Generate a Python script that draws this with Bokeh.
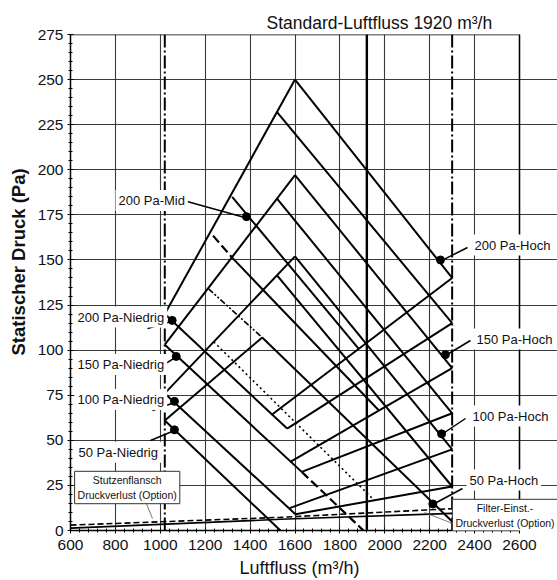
from bokeh.plotting import figure
from bokeh.models import Label, Span, FixedTicker, Range1d, Title
from bokeh.embed import file_html
from bokeh.resources import INLINE

FONT = "Liberation Sans"

x_ticks = [600, 800, 1000, 1200, 1400, 1600, 1800, 2000, 2200, 2400, 2600]
y_ticks = [0, 25, 50, 75, 100, 125, 150, 175, 200, 225, 250, 275]
standard_flow = 1920
min_flow = 1020
max_flow = 2300

# ---- 200 Pa family (x: m3/h, y: Pa)
up_200_x = [1020, 1600]; up_200_y = [120, 250]
hoch_200_x = [1600, 2300]; hoch_200_y = [250, 140]
br_200_x = [1520, 2300]; br_200_y = [232, 115]
mid_200_x = [1320, 1882]; mid_200_y = [185, 101]
nied_200_x = [1020, 1565]; nied_200_y = [120, 56.5]
edge_h200_x = [2300, 1495]; edge_h200_y = [140, 64]
edge_b200_x = [2300, 1565]; edge_b200_y = [115, 56.5]
# ---- 150 Pa family
up_150_x = [1020, 1600]; up_150_y = [103, 197]
hoch_150_x = [1600, 2300]; hoch_150_y = [197, 90]
br_150_x = [1520, 2300]; br_150_y = [184, 65]
nied_150_x = [1020, 1630]; nied_150_y = [103, 32.5]
nied_150_ext_x = [1630, 1905]; nied_150_ext_y = [32.5, 0]
edge_h150_x = [2300, 1579]; edge_h150_y = [90, 38]
edge_b150_x = [2300, 1630]; edge_b150_y = [65, 32.5]
mid_150_ext_x = [1235, 1322]; mid_150_ext_y = [163.5, 151]
mid_150_x = [1322, 1974]; mid_150_y = [151, 66.5]
# ---- 100 Pa family
up_100_x = [1020, 1600]; up_100_y = [76, 152]
hoch_100_x = [1600, 2300]; hoch_100_y = [152, 45]
br_100_x = [1520, 2300]; br_100_y = [141.5, 24.4]
nied_100_x = [1020, 1602]; nied_100_y = [76, 9]
edge_h100_x = [2300, 1576]; edge_h100_y = [45, 12.4]
edge_b100_x = [2300, 1602]; edge_b100_y = [24.4, 9]
mid_100_x = [1238, 1955]; mid_100_y = [104.6, 16.5]
# ---- 50 Pa family
up_50_x = [1020, 1454]; up_50_y = [61, 107]
hoch_50_x = [1454, 2300]; hoch_50_y = [107, 5]
hoch_50_ext_x = [1215, 1454]; hoch_50_ext_y = [134, 107]
nied_50_x = [1020, 1535]; nied_50_y = [61, 0]
# ---- option pressure losses
flange_x = [600, 1535, 2300]; flange_y = [3, 7.3, 12.1]
filter_x = [600, 1535, 2300]; filter_y = [1.3, 6.2, 9.5]

dot_x = [1384, 2248, 2270, 2253, 2214, 1053, 1071, 1063, 1063]
dot_y = [174, 150, 97.5, 53.6, 14.7, 116.5, 96.5, 71.6, 55.8]

# layout (pixels)
W, H = 557, 580
FL, FR, FT, FB = 70, 519, 34, 530          # chart box in canvas pixels
x_end = x_ticks[0] + (x_ticks[-1] - x_ticks[0]) * (W - FL) / (FR - FL)

p = figure(width=W, height=H, output_backend="svg", toolbar_location=None,
           x_range=Range1d(x_ticks[0], x_end), y_range=Range1d(y_ticks[0], y_ticks[-1]),
           min_border_left=FL, min_border_right=0, min_border_top=FT, min_border_bottom=H - FB)
p.background_fill_color = "white"
p.border_fill_color = "white"
p.outline_line_color = None

p.xaxis.ticker = FixedTicker(ticks=x_ticks, minor_ticks=list(range(600, 2601, 40)))
p.yaxis.ticker = FixedTicker(ticks=y_ticks, minor_ticks=list(range(0, 276, 5)))
p.xaxis.bounds = (x_ticks[0], x_ticks[-1])
for ax in (p.xaxis[0], p.yaxis[0]):
    ax.major_label_text_font = FONT
    ax.major_label_text_font_size = "15.5px"
    ax.major_label_text_color = "#111111"
    ax.axis_line_color = "black"
    ax.axis_line_width = 1.5
    ax.major_tick_in = 3
    ax.major_tick_out = 3
    ax.minor_tick_in = 2
    ax.minor_tick_out = 2
    ax.major_tick_line_color = "black"
    ax.minor_tick_line_color = "black"
    ax.major_label_standoff = 4
p.xaxis.major_label_standoff = 6

p.xgrid.ticker = FixedTicker(ticks=x_ticks)
p.ygrid.ticker = FixedTicker(ticks=y_ticks)
p.xgrid.bounds = (y_ticks[0], y_ticks[-1])
p.ygrid.bounds = (x_ticks[0], x_ticks[-1])
for g in (p.xgrid[0], p.ygrid[0]):
    g.grid_line_color = "#3a3a3a"
    g.grid_line_width = 1.1
    g.minor_grid_line_color = "#c4c4c4"
    g.minor_grid_line_width = 1
    g.level = "underlay"

# titles (top, bottom, left)
p.title.text = "Standard-Luftfluss 1920 m³/h"
p.title.text_font = FONT
p.title.text_font_size = "17.5px"
p.title.text_font_style = "normal"
p.title.text_color = "#111111"
p.title.align = "left"
p.title.offset = 196
p.title.standoff = 3

xt = Title(text="Luftfluss (m³/h)", text_font=FONT, text_font_size="18px",
           text_font_style="normal", text_color="#111111", align="left", offset=169, standoff=6)
p.add_layout(xt, "below")
yt = Title(text="Statischer Druck (Pa)", text_font=FONT, text_font_size="18.5px",
           text_font_style="bold", text_color="#111111", align="left", offset=175, standoff=11)
p.add_layout(yt, "left")

# chart box: top and right edges
p.line([x_ticks[0], x_ticks[-1], x_ticks[-1]], [y_ticks[-1], y_ticks[-1], y_ticks[0]],
       line_color="black", line_width=1.5)

p.add_layout(Span(location=standard_flow, dimension="height", line_color="black", line_width=2.4))
for loc in (min_flow, max_flow):
    p.line([loc, loc], [y_ticks[0], y_ticks[-1]], line_color="black", line_width=2,
           line_dash="13 3 2 3")

solid = [
    (up_200_x, up_200_y), (hoch_200_x, hoch_200_y), (br_200_x, br_200_y), (mid_200_x, mid_200_y),
    (nied_200_x, nied_200_y), (edge_h200_x, edge_h200_y), (edge_b200_x, edge_b200_y),
    (up_150_x, up_150_y), (hoch_150_x, hoch_150_y), (br_150_x, br_150_y), (mid_150_x, mid_150_y),
    (nied_150_x, nied_150_y), (edge_h150_x, edge_h150_y), (edge_b150_x, edge_b150_y),
    (up_100_x, up_100_y), (hoch_100_x, hoch_100_y), (br_100_x, br_100_y),
    (nied_100_x, nied_100_y), (edge_h100_x, edge_h100_y), (edge_b100_x, edge_b100_y),
    (up_50_x, up_50_y), (hoch_50_x, hoch_50_y), (nied_50_x, nied_50_y),
]
for xs, ys in solid:
    p.line(xs, ys, line_color="black", line_width=2)
p.line(nied_150_ext_x, nied_150_ext_y, line_color="black", line_width=2.2, line_dash="9 4")
p.line(mid_150_ext_x, mid_150_ext_y, line_color="black", line_width=2.2, line_dash="9 4")
p.line(mid_100_x, mid_100_y, line_color="black", line_width=1.6, line_dash="2 3")
p.line(hoch_50_ext_x, hoch_50_ext_y, line_color="black", line_width=1.6, line_dash="6 2 2 2 2 2")
p.line(flange_x, flange_y, line_color="black", line_width=1.6, line_dash="6 3")
p.line(filter_x, filter_y, line_color="black", line_width=1.6)

# label leaders (canvas pixels: start at label, end at dot)
lead_px = [(183, 200, 246, 217.5), (467, 247, 440, 260.7), (470, 340, 445, 355),
           (465, 418, 441, 434), (462, 488, 432.3, 504), (147, 328, 171.7, 320.7),
           (160, 366, 175.7, 356.7), (152, 410, 174, 402), (150, 440, 174, 430)]
def dx(px):
    return x_ticks[0] + (px - FL) * (x_ticks[-1] - x_ticks[0]) / (FR - FL)
def dy(py):
    return (FB - py) * (y_ticks[-1] - y_ticks[0]) / (FB - FT)
p.segment([dx(a) for a, b, c, d in lead_px], [dy(b) for a, b, c, d in lead_px],
          [dx(c) for a, b, c, d in lead_px], [dy(d) for a, b, c, d in lead_px],
          line_color="black", line_width=1.5)
thin_px = [(145, 501, 152, 518), (460, 526, 424, 512), (460, 526, 450, 523)]
p.segment([dx(a) for a, b, c, d in thin_px], [dy(b) for a, b, c, d in thin_px],
          [dx(c) for a, b, c, d in thin_px], [dy(d) for a, b, c, d in thin_px],
          line_color="#555555", line_width=0.8)

p.scatter(dot_x, dot_y, size=8, color="black")

def lab(px, py, text, size="13px", box=False, align="left"):
    l = Label(x=px - FL, y=FB - py, x_units="screen", y_units="screen", text=text,
              text_font=FONT, text_font_size=size, text_color="#111111",
              text_align=align, text_baseline="middle",
              background_fill_color="white",
              border_line_color="#333333" if box else None, border_line_width=1,
              padding=3)
    p.add_layout(l)

lab(115, 200, "200 Pa-Mid")
lab(471, 244.5, "200 Pa-Hoch")
lab(473, 338.5, "150 Pa-Hoch")
lab(469, 415.5, "100 Pa-Hoch")
lab(466, 479.5, "50 Pa-Hoch")
lab(74, 316.5, "200 Pa-Niedrig")
lab(74, 364, "150 Pa-Niedrig")
lab(74, 399, "100 Pa-Niedrig")
lab(75, 451.7, "50 Pa-Niedrig")
lab(126.7, 487, "Stutzenflansch\nDruckverlust (Option)", size="10.5px", box=True, align="center")
lab(504.5, 515, "Filter-Einst.-\nDruckverlust (Option)", size="10.5px", box=True, align="center")

open("out.html", "w").write(file_html(p, INLINE))
